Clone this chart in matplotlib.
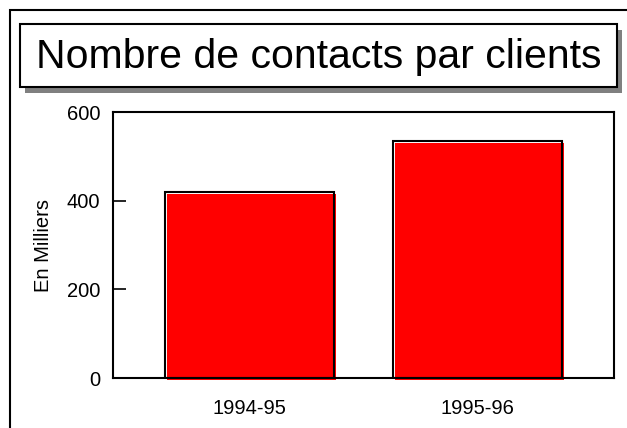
import matplotlib
matplotlib.use("Agg")
import matplotlib.pyplot as plt
from matplotlib.patches import Rectangle
import matplotlib.transforms as mtransforms

categories = ["1994-95", "1995-96"]
values = [420, 535]
title = "Nombre de contacts par clients"
ylabel = "En Milliers"
yticks = [0, 200, 400, 600]

plt.rcParams['font.family'] = ['Liberation Sans', 'DejaVu Sans']

W, H = 627, 428
fig = plt.figure(figsize=(W / 100, H / 100), dpi=100)
fig.patch.set_facecolor('white')

def fx(px):
    return px / W

def fy(py):
    return 1 - py / H

# Outer frame (extends beyond right/bottom edges)
fig.patches.append(Rectangle((fx(10), -0.2), 1.5, fy(10) + 0.2, transform=fig.transFigure,
                             fill=False, edgecolor='black', linewidth=1.5, zorder=0))

# Title box with shadow
bx0, bx1, by0, by1 = 20, 617, 24, 87
fig.patches.append(Rectangle((fx(bx0 + 5), fy(by1 + 6)), fx(bx1 - bx0), fy(by0) - fy(by1),
                             transform=fig.transFigure, facecolor='#808080', edgecolor='none', zorder=1))
fig.patches.append(Rectangle((fx(bx0), fy(by1)), fx(bx1 - bx0), fy(by0) - fy(by1),
                             transform=fig.transFigure, facecolor='white', edgecolor='black',
                             linewidth=1.5, zorder=2))
fig.text(fx((bx0 + bx1) / 2), fy(68), title, ha='center', va='baseline', fontsize=29.5, zorder=3)

# Axes
ax_l, ax_r, ax_t, ax_b = 113, 614, 112, 378
ax = fig.add_axes([fx(ax_l), fy(ax_b), fx(ax_r - ax_l), fy(ax_t) - fy(ax_b)])
x = list(range(len(categories)))

bars_fill = ax.bar(x, values, width=0.74, color='#ff0000', edgecolor='none', zorder=2)
offset = mtransforms.offset_copy(ax.transData, fig=fig, x=2, y=-2, units='dots')
for p in bars_fill:
    p.set_transform(offset)
    p.set_clip_on(False)
ax.bar(x, values, width=0.74, fill=False, edgecolor='black', linewidth=1.5, zorder=3)

ax.set_xlim(-0.6, 1.6)
ax.set_ylim(0, 600)
ax.set_yticks(yticks)
ax.set_xticks(x)
ax.set_xticklabels(categories)
ax.tick_params(axis='y', direction='in', length=9, width=1.2, pad=9, labelsize=14.5)
ax.tick_params(axis='x', length=0, pad=15, labelsize=14.5)
for s in ax.spines.values():
    s.set_linewidth(1.5)

ax.set_ylabel(ylabel, fontsize=14.5, va='center')
ax.yaxis.set_label_coords((44 - ax_l) / (ax_r - ax_l), 0.5)

fig.savefig("out.png", dpi=100, facecolor='white')
